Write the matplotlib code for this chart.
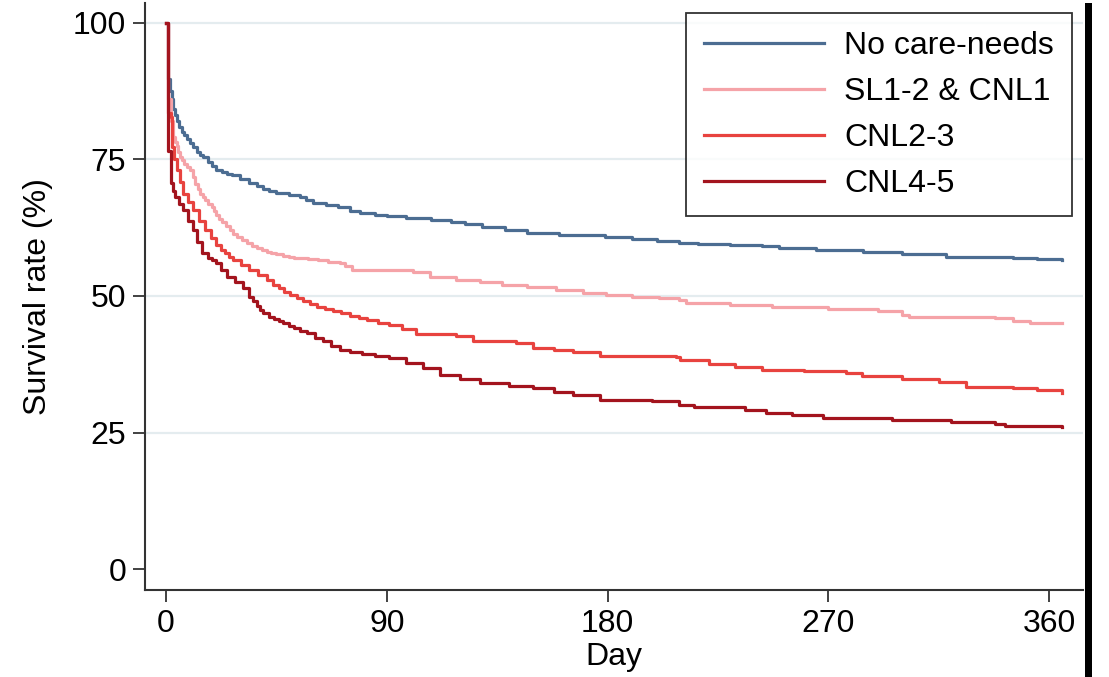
import matplotlib
matplotlib.use("Agg")
import matplotlib.pyplot as plt
from matplotlib.lines import Line2D

plt.rcParams['font.family'] = ['Liberation Sans', 'DejaVu Sans']

labels = ['No care-needs', 'SL1-2 & CNL1', 'CNL2-3', 'CNL4-5']
colors = ['#4c6d92', '#f5a3a8', '#e8433f', '#a3141e']

days_none = [0, 1, 1.8, 2.5, 3, 3.7, 4.3, 5.3, 6.4, 7.4, 8.4, 9.7, 11, 12.5, 14, 15.2, 17,
             18.6, 20.5, 22.7, 25, 27, 30, 34, 37, 39.7, 42, 45, 50, 54.6, 57, 60, 65.4,
             70, 75, 79, 85, 90, 98, 108, 116, 122, 129, 138, 147, 160, 179, 190, 200,
             209, 217, 230, 243, 250, 265, 284, 300, 318, 330, 345, 355, 365]
surv_none = [100, 89.7, 87.5, 86, 84.3, 83.2, 82.1, 81, 80, 79.4, 78.8, 78, 77.2, 76.3,
             75.8, 75.4, 74.5, 73.7, 73.1, 72.6, 72.3, 72.1, 71.4, 70.7, 70.1, 69.6, 69.3,
             68.9, 68.5, 68.1, 67.6, 67.1, 66.6, 66.2, 65.6, 65.2, 64.9, 64.7, 64.2, 63.9,
             63.6, 63.1, 62.6, 62.1, 61.6, 61.2, 60.8, 60.4, 60.0, 59.7, 59.6, 59.3, 59.1,
             58.7, 58.4, 58.1, 57.6, 57.2, 57.1, 57.0, 56.8, 56.6]

days_sl = [0, 1, 2, 3, 3.7, 4.3, 5, 5.7, 6.6, 7.5, 8.6, 9.8, 10.9, 12, 13, 13.8, 15, 16,
           17.3, 18.6, 19.5, 20.5, 21.6, 22.7, 24.3, 26, 27.4, 28.8, 31, 33, 35, 37, 39,
           41, 43, 45, 47.5, 50, 52, 54.6, 58, 62, 66, 70.8, 73, 76, 100.6, 107.5, 118,
           128, 137, 147, 159, 170, 179.4, 190, 201, 209, 212, 230, 247, 270, 290, 300,
           303, 338, 345, 352, 365]
surv_sl = [100, 86.1, 82, 79.1, 78.2, 77.5, 76.4, 75.4, 74.8, 74.2, 73.6, 73, 71.7, 70.5,
           69.5, 68.7, 68.1, 67.5, 66.9, 66.3, 65.5, 64.8, 64.1, 63.5, 62.8, 62.1, 61.4,
           60.8, 60.2, 59.7, 59.2, 58.7, 58.4, 58.1, 57.8, 57.6, 57.4, 57.2, 57.0, 56.9,
           56.7, 56.5, 56.3, 56.0, 55.4, 54.7, 54.4, 53.5, 53.0, 52.6, 52.1, 51.7, 51.1,
           50.6, 50.2, 49.9, 49.6, 49.3, 48.8, 48.3, 47.9, 47.6, 47.3, 46.6, 46.2, 45.9,
           45.4, 45.1, 45.1]

days_c23 = [0, 1, 1.9, 2.5, 3.4, 4.3, 5.6, 7, 9, 11, 13.5, 16, 18.3, 20.6, 22.3, 24, 25.7,
            27.4, 30.7, 34, 37.5, 41, 43.5, 46, 48.2, 50.5, 53.3, 56, 58.7, 61.4, 64.7, 68,
            71.5, 75, 78.5, 82, 86.5, 91, 96, 102, 118.4, 125, 142.8, 149.5, 158, 165.8,
            176.7, 190, 208, 209.5, 221.5, 232, 243, 260, 277, 283.8, 300, 315, 326, 345,
            355, 365]
surv_c23 = [100, 83.5, 82.7, 77.2, 75, 73, 70.8, 68.7, 67.2, 65.7, 63.8, 62, 60.6, 59.3,
            58.5, 57.8, 57.2, 56.6, 55.6, 54.7, 53.8, 52.9, 52.1, 51.4, 50.8, 50.2, 49.6,
            49.0, 48.5, 48.0, 47.6, 47.2, 46.8, 46.4, 46.0, 45.6, 45.1, 44.7, 44.0, 43.1,
            42.6, 41.8, 41.4, 40.5, 40.1, 39.7, 39.1, 39.0, 38.9, 38.3, 37.6, 37.0, 36.5,
            36.2, 35.9, 35.4, 34.9, 34.2, 33.3, 33.2, 32.8, 32.2]

days_c45 = [0, 1, 1.9, 2.8, 3.7, 5.4, 7, 9, 11, 12.8, 14.5, 17, 18.8, 20.6, 22.6, 24.7, 28,
            31.5, 34, 35.5, 37, 38.3, 39.6, 42, 44, 46, 47.8, 50, 52, 54.6, 57.3, 60.6, 64,
            67.4, 70.8, 75, 80, 85, 91, 98, 104.8, 111.6, 120, 128, 140, 149.5, 158, 165.8,
            176.7, 198, 209, 215, 236, 244.6, 255, 267.6, 296, 320, 338, 342, 365]
surv_c45 = [100, 76.6, 70.6, 69.3, 68.1, 66.9, 65.7, 63.8, 62, 59.9, 57.8, 57, 56.5, 56,
            54.7, 53.5, 52.5, 51.4, 49.9, 49.0, 48.2, 47.5, 46.8, 46.2, 45.8, 45.4, 45.0,
            44.5, 44.1, 43.6, 43.2, 42.4, 41.7, 40.9, 40.1, 39.8, 39.4, 39.0, 38.6, 37.8,
            36.8, 35.6, 34.8, 34.1, 33.6, 33.2, 32.5, 31.9, 30.9, 30.7, 30.1, 29.7, 29.2,
            28.6, 28.2, 27.7, 27.3, 27.0, 26.6, 26.2, 26.0]

series = [(days_none, surv_none), (days_sl, surv_sl), (days_c23, surv_c23), (days_c45, surv_c45)]

fig = plt.figure(figsize=(11.09, 6.77), dpi=100)
ax = fig.add_axes([0.1307, 0.1285, 0.8458, 0.867])

for y in [25, 50, 75, 100]:
    ax.axhline(y, color='#e4ecef', lw=1.6, zorder=0)

for (d, s), c in zip(series, colors):
    ax.step(d, s, where='post', color=c, lw=2.3)

ax.set_xlim(-8.56, 373.7)
ax.set_ylim(-3.8, 103.6)
ax.set_xticks([0, 90, 180, 270, 360])
ax.set_yticks([0, 25, 50, 75, 100])
ax.tick_params(labelsize=23, length=8.6, width=1.3, color='#333333', pad=5)
for side in ['top', 'right']:
    ax.spines[side].set_visible(False)
for side in ['left', 'bottom']:
    ax.spines[side].set_color('#333333')
    ax.spines[side].set_linewidth(1.5)

ax.set_xlabel('Day', fontsize=23, labelpad=2)
ax.set_ylabel('Survival rate (%)', fontsize=23, labelpad=14)

handles = [Line2D([], [], color=c, lw=2.3) for c in colors]
leg = ax.legend(handles, labels, loc='upper right', bbox_to_anchor=(0.9664, 0.9803),
                bbox_transform=fig.transFigure, fontsize=23, frameon=True,
                fancybox=False, edgecolor='black', borderaxespad=0, handlelength=3.75,
                handletextpad=0.65, labelspacing=0.5, borderpad=0.55)
leg.get_frame().set_linewidth(1.3)

# thick black border strip at the right edge of the picture
fig.add_artist(plt.Rectangle((1085 / 1109, 0), 7 / 1109, 674 / 677,
                             transform=fig.transFigure, color='black', lw=0))

fig.savefig('out.png', dpi=100)
